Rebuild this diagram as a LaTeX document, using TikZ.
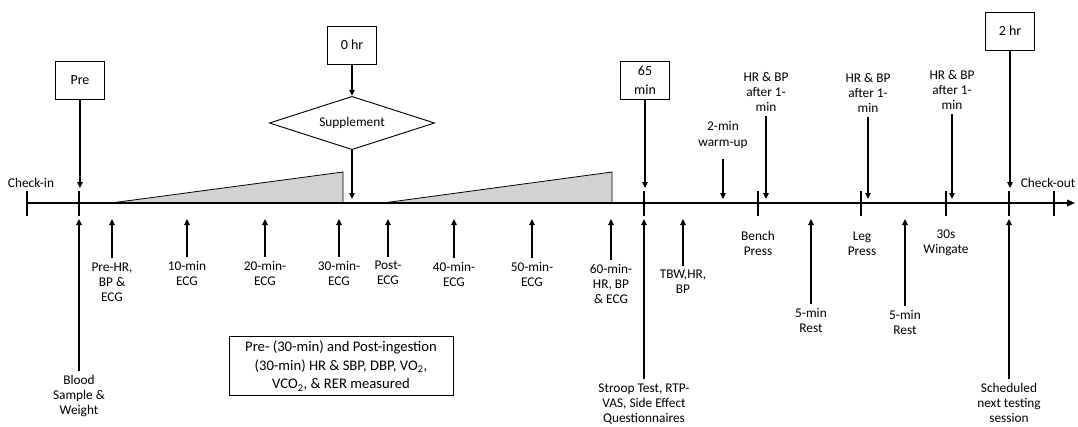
\documentclass[tikz,border=0pt]{standalone}
\usepackage{fontspec}
\setmainfont{Carlito}
\usetikzlibrary{arrows.meta,shapes.geometric}
\tikzset{
 tline/.style={line width=1.2pt},
 arr/.style={line width=1.2pt,-{Triangle[length=4.5pt,width=4pt]}},
 lbl/.style={align=center,font=\fontsize{10}{11.3}\selectfont,inner sep=3pt},
 tbox/.style={draw,line width=0.7pt,align=center,minimum width=37pt,minimum height=28.5pt,font=\fontsize{10.5}{14}\selectfont},
}
\begin{document}
\begin{tikzpicture}[x=0.75pt,y=-0.75pt]
\useasboundingbox (0,0) rectangle (1078,426);
% timeline
\coordinate (start) at (27,203);
\coordinate (end) at (1075,203);
\coordinate (axtick) at (0,188);
\coordinate (axhigh) at (0,199);
\coordinate (axlow) at (0,219);
% shaded ramps
\filldraw[fill=gray!35,line width=0.6pt] (111,203) -- (343,172) -- (343,203) -- cycle;
\filldraw[fill=gray!35,line width=0.6pt] (383,203) -- (612,172) -- (612,203) -- cycle;
\draw[tline,-{Triangle[length=6pt,width=5pt]}] (start) -- (end);
\foreach \x in {27,79,644,758,861,946,1009,1054}
  \draw[tline] (\x,191) -- (\x,216);
% time points
\node[tbox] (pre) at (80,80) {Pre};
\node[tbox] (zero) at (352,45) {0 hr};
\node[draw,diamond,aspect=3.1,inner sep=0pt,minimum width=124pt,minimum height=40pt,line width=0.7pt,font=\fontsize{10}{11.3}\selectfont] (supp) at (352,123) {Supplement};
\node[tbox] (m65) at (645,80) {65\\min};
\node[tbox] (two) at (1010,31) {2 hr};
\draw[arr] (pre) -- (pre |- axtick);
\draw[arr] (zero) -- (supp);
\draw[arr] (supp) -- (supp |- axhigh);
\draw[arr] (m65) -- (m65 |- axtick);
\draw[arr] (two) -- (two |- axtick);
% above the line
\node[lbl] (checkin) at (31,183) {Check-in};
\node[lbl,anchor=east,inner sep=1pt] (checkout) at (1077,183) {Check-out};
\node[lbl] (warm) at (723,135) {2-min\\warm-up};
\node[lbl] (hra) at (766,92) {HR \& BP\\after 1-\\min};
\node[lbl] (hrb) at (868,93) {HR \& BP\\after 1-\\min};
\node[lbl] (hrc) at (952,90) {HR \& BP\\after 1-\\min};
\draw[arr,shorten <=5pt] (warm) -- (warm |- axhigh);
\foreach \n in {hra,hrb,hrc}
  \draw[arr] (\n) -- (\n |- axhigh);
% below the line
\node[lbl] (prehr) at (112,282) {Pre-HR,\\BP \&\\ECG};
\node[lbl] (ecga) at (187,273) {10-min\\ECG};
\node[lbl] (ecgb) at (265,273) {20-min-\\ECG};
\node[lbl] (ecgc) at (339,273) {30-min-\\ECG};
\node[lbl] (post) at (388,273) {Post-\\ECG};
\node[lbl] (ecgd) at (454,274) {40-min-\\ECG};
\node[lbl] (ecge) at (532,274) {50-min-\\ECG};
\node[lbl] (ecgf) at (611,284) {60-min-\\HR, BP\\\& ECG};
\node[lbl] (tbw) at (683,282) {TBW,HR,\\BP};
\node[lbl] (resta) at (811,320) {5-min\\Rest};
\node[lbl] (restb) at (905,322) {5-min\\Rest};
\node[lbl] (blood) at (79,396) {Blood\\Sample \&\\Weight};
\node[lbl] (stroop) at (644,404) {Stroop Test, RTP-\\VAS, Side Effect\\Questionnaires};
\node[lbl] (sched) at (1009,403) {Scheduled\\next testing\\session};
\foreach \n in {prehr,ecga,ecgb,ecgc,post,ecgd,ecge,ecgf,tbw,resta,restb,blood,stroop,sched}
  \draw[arr] (\n) -- (\n |- axlow);
\node[lbl] (bench) at (758,243) {Bench\\Press};
\node[lbl] (leg) at (862,244) {Leg\\Press};
\node[lbl] (wingate) at (946,243) {30s\\Wingate};
% summary
\node[draw,line width=0.7pt,align=center,font=\fontsize{11}{13.9}\selectfont,minimum width=168pt,minimum height=44pt] (summary) at (341,366) {Pre- (30-min) and Post-ingestion\\(30-min) HR \& SBP, DBP, VO\textsubscript{2},\\VCO\textsubscript{2}, \& RER measured};
\end{tikzpicture}
\end{document}
